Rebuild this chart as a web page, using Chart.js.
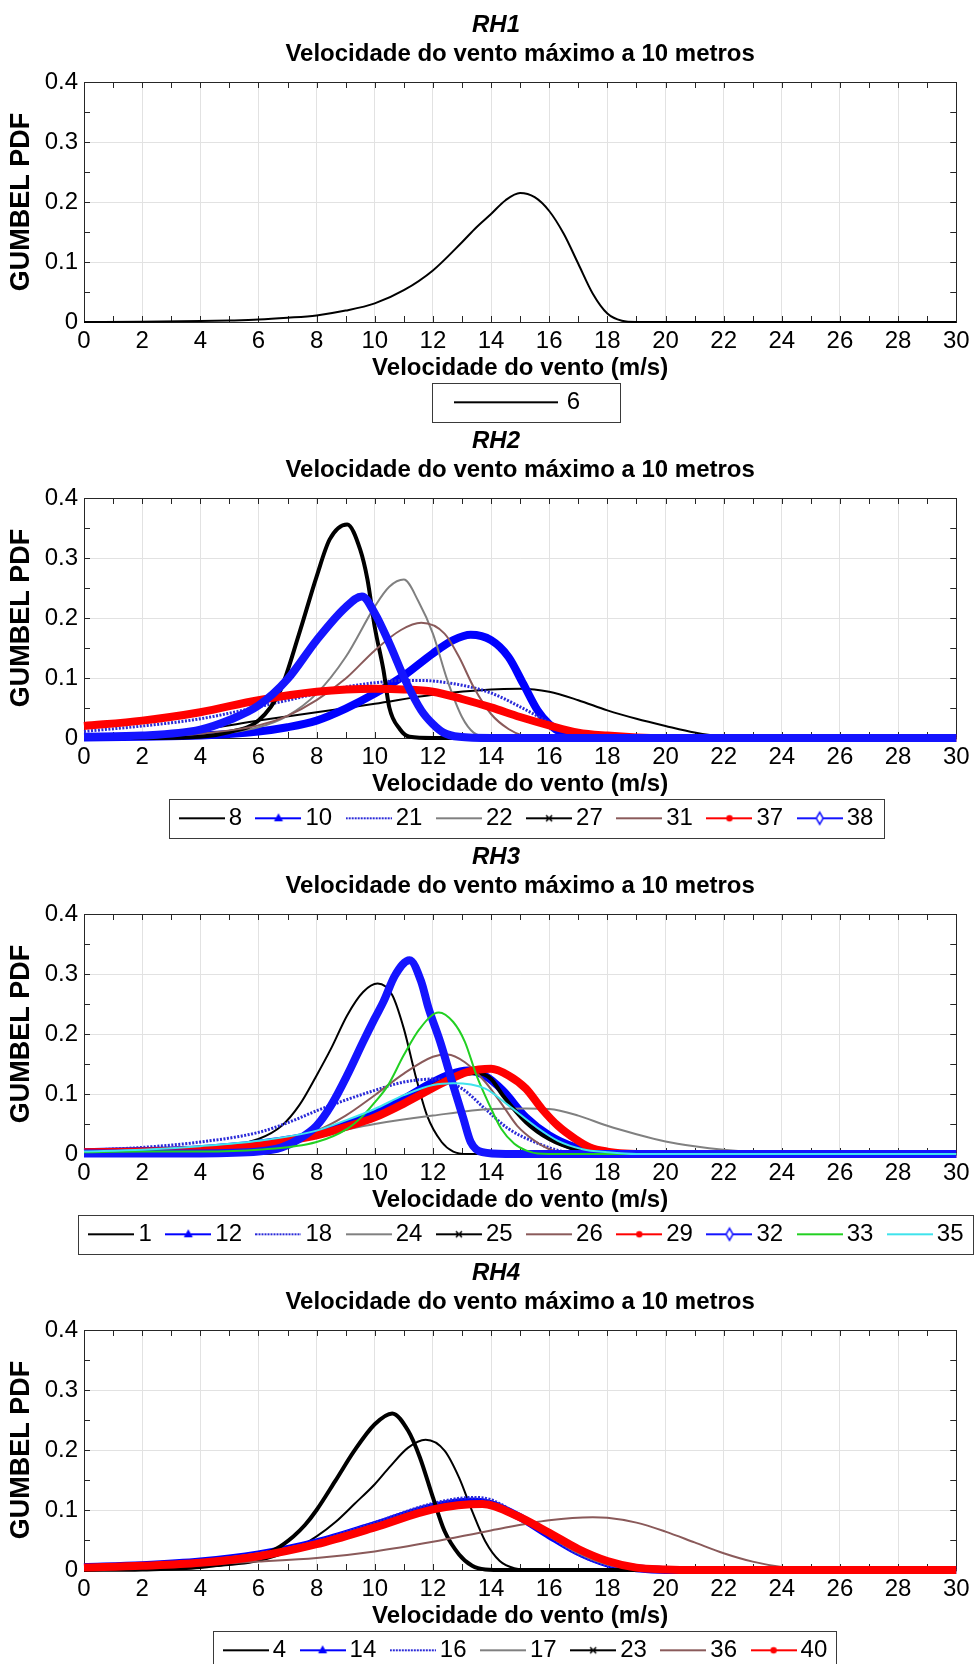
<!DOCTYPE html>
<html>
<head>
  <meta charset="utf-8">
  <title>GUMBEL PDF - RH1 a RH4</title>
  <script src="https://cdn.jsdelivr.net/npm/chart.js"></script>
  <style>
    html, body { margin: 0; padding: 0; background: #fff; overflow: hidden; }
    .panel { position: absolute; left: 0; width: 979px; height: 425px; }
  </style>
</head>
<body>
  <div class="panel" style="top:0px"><canvas id="rh1"></canvas></div>
  <div class="panel" style="top:416px"><canvas id="rh2"></canvas></div>
  <div class="panel" style="top:832px"><canvas id="rh3"></canvas></div>
  <div class="panel" style="top:1248px"><canvas id="rh4"></canvas></div>

  <script>
    // [velocidade (m/s), PDF]
    const rh1_6 = [[0,0],[2,0.0005],[4,0.0015],[5,0.0025],[6,0.004],[7,0.007],[8,0.011],[9,0.019],[10,0.031],[11,0.053],[12,0.086],[13,0.133],[13.5,0.158],[14,0.18],[14.5,0.203],[15,0.215],[15.5,0.208],[16,0.185],[16.5,0.147],[17,0.097],[17.5,0.047],[18,0.014],[18.5,0.002],[19,0],[30,0]];

    const rh2_8  = [[0,0.002],[2,0.005],[4,0.014],[6,0.029],[8,0.043],[10,0.057],[12,0.072],[14,0.081],[15,0.082],[16,0.077],[17,0.063],[18,0.046],[19,0.032],[20,0.02],[21,0.009],[22,0.002],[23,0],[30,0]];
    const rh2_10 = [[0,0.001],[2,0.002],[4,0.004],[6,0.011],[7,0.018],[8,0.029],[9,0.049],[10,0.074],[11,0.104],[12,0.141],[12.7,0.163],[13.3,0.172],[14,0.163],[14.6,0.135],[15.1,0.091],[15.6,0.046],[16,0.023],[16.5,0.007],[17,0.001],[18,0],[30,0]];
    const rh2_21 = [[0,0.011],[2,0.02],[4,0.032],[6,0.052],[8,0.074],[9,0.085],[10,0.092],[11,0.096],[11.5,0.096],[12,0.095],[13,0.088],[14,0.075],[15,0.052],[16,0.026],[16.5,0.015],[17,0.007],[18,0.001],[19,0],[30,0]];
    const rh2_22 = [[0,0],[2,0.001],[4,0.004],[6,0.018],[7,0.037],[8,0.074],[9,0.135],[10,0.219],[10.5,0.252],[11,0.264],[11.5,0.228],[12,0.174],[12.5,0.096],[13,0.035],[13.4,0.009],[14,0.001],[15,0],[30,0]];
    const rh2_27 = [[0,0],[2,0],[4,0.002],[5,0.01],[6,0.029],[6.75,0.079],[7.4,0.174],[8,0.269],[8.45,0.331],[9.05,0.356],[9.5,0.314],[9.75,0.264],[10,0.185],[10.3,0.113],[10.5,0.051],[10.86,0.015],[11.2,0.002],[12,0],[30,0]];
    const rh2_31 = [[0,0.001],[2,0.003],[4,0.007],[6,0.021],[7,0.037],[8,0.063],[9,0.099],[10,0.146],[10.9,0.18],[11.6,0.192],[12.4,0.174],[12.9,0.135],[13.4,0.085],[14,0.04],[14.6,0.015],[15.1,0.004],[16,0],[30,0]];
    const rh2_37 = [[0,0.02],[2,0.029],[4,0.043],[6,0.063],[8,0.077],[10,0.082],[11,0.081],[12,0.077],[13,0.065],[14,0.051],[15,0.035],[16,0.021],[17,0.009],[18,0.004],[19,0.001],[20,0],[30,0]];
    const rh2_38 = [[0,0.002],[2,0.004],[4,0.014],[5,0.03],[6,0.054],[7,0.098],[8,0.163],[9,0.218],[9.56,0.236],[10,0.208],[10.5,0.158],[11.05,0.096],[11.6,0.046],[12,0.023],[12.36,0.009],[12.9,0.002],[14,0],[30,0]];

    const rh3_1  = [[0,0.002],[2,0.004],[4,0.008],[6,0.025],[6.8,0.047],[7.4,0.081],[8,0.131],[8.5,0.176],[9.05,0.231],[9.6,0.27],[10.1,0.284],[10.6,0.265],[11,0.209],[11.4,0.131],[11.8,0.064],[12.3,0.02],[12.7,0.004],[13.2,0],[30,0]];
    const rh3_12 = [[0,0.003],[2,0.005],[4,0.008],[6,0.017],[8,0.033],[9,0.049],[10,0.067],[11,0.092],[12,0.12],[12.6,0.133],[13.2,0.139],[13.8,0.13],[14.4,0.106],[15.2,0.061],[16,0.031],[16.9,0.011],[17.7,0.003],[18.5,0],[30,0]];
    const rh3_18 = [[0,0.006],[2,0.011],[4,0.02],[6,0.036],[7,0.052],[8,0.072],[9,0.09],[10,0.106],[11,0.12],[12.1,0.125],[13,0.109],[13.8,0.075],[14.6,0.042],[15.5,0.02],[16.3,0.006],[17,0.001],[18,0],[30,0]];
    const rh3_24 = [[0,0.003],[2,0.006],[4,0.011],[6,0.02],[8,0.031],[10,0.05],[12,0.064],[14,0.075],[15.2,0.076],[16,0.075],[17,0.064],[18,0.047],[19,0.033],[20,0.021],[21,0.013],[22,0.007],[23,0.003],[24,0.001],[25,0],[30,0]];
    const rh3_25 = [[0,0.003],[2,0.004],[4,0.007],[6,0.015],[8,0.031],[9,0.045],[10,0.061],[11,0.086],[12,0.114],[12.8,0.13],[13.5,0.135],[14,0.125],[14.4,0.098],[15.2,0.053],[16,0.025],[16.9,0.008],[17.7,0.002],[18.5,0],[30,0]];
    const rh3_26 = [[0,0.002],[2,0.004],[4,0.007],[6,0.017],[8,0.039],[9,0.064],[10,0.098],[11,0.134],[12,0.162],[12.5,0.166],[13.1,0.153],[13.8,0.12],[14.4,0.081],[14.9,0.047],[15.5,0.022],[16,0.008],[16.6,0.002],[17.5,0],[30,0]];
    const rh3_29 = [[0,0.003],[2,0.004],[4,0.007],[6,0.014],[6.8,0.02],[8,0.031],[9,0.045],[10,0.061],[11,0.084],[12.4,0.12],[13.2,0.137],[14,0.142],[14.6,0.131],[15.2,0.109],[15.75,0.075],[16.3,0.047],[16.9,0.025],[17.4,0.011],[18,0.004],[18.6,0.001],[19.5,0],[30,0]];
    const rh3_32 = [[0,0.001],[2,0.001],[4,0.001],[6,0.004],[6.8,0.011],[7.4,0.025],[8,0.047],[8.5,0.081],[9.05,0.131],[9.6,0.187],[10,0.226],[10.3,0.254],[10.7,0.298],[11.2,0.323],[11.6,0.287],[11.85,0.243],[12.25,0.187],[12.7,0.114],[13.05,0.059],[13.3,0.02],[13.7,0.003],[14.5,0],[30,0]];
    const rh3_33 = [[0,0.003],[2,0.004],[4,0.004],[6,0.007],[8,0.02],[9.05,0.042],[9.6,0.064],[10,0.086],[10.45,0.114],[11,0.165],[11.55,0.209],[12.2,0.236],[12.7,0.22],[13.1,0.187],[13.5,0.131],[13.95,0.081],[14.35,0.042],[14.8,0.017],[15.2,0.006],[15.6,0.001],[16.5,0],[30,0]];
    const rh3_35 = [[0,0.004],[2,0.007],[4,0.013],[6,0.022],[8,0.039],[9,0.056],[10,0.075],[11,0.098],[12,0.115],[12.7,0.118],[13.8,0.109],[14.6,0.081],[15.5,0.047],[16.3,0.022],[17.15,0.008],[18,0.003],[19,0],[30,0]];

    const rh4_4  = [[0,0.001],[2,0.002],[4,0.005],[6,0.015],[7.2,0.034],[8,0.056],[8.65,0.08],[9.3,0.11],[10,0.143],[10.5,0.171],[11.15,0.204],[11.75,0.217],[12.4,0.199],[12.9,0.154],[13.35,0.098],[13.8,0.048],[14.3,0.015],[14.8,0.003],[15.5,0],[30,0]];
    const rh4_14 = [[0,0.005],[2,0.008],[4,0.014],[6,0.026],[8,0.046],[10,0.075],[12,0.105],[13.4,0.114],[14,0.11],[15,0.088],[16,0.058],[17,0.03],[18,0.011],[19,0.003],[20,0],[30,0]];
    const rh4_16 = [[0,0.006],[2,0.009],[4,0.015],[6,0.027],[8,0.048],[10,0.079],[12,0.111],[13.4,0.121],[14,0.117],[15,0.09],[16,0.057],[17,0.026],[18,0.008],[19,0.002],[20,0],[30,0]];
    const rh4_17 = [[0,0.005],[2,0.009],[4,0.016],[6,0.028],[8,0.047],[10,0.072],[12,0.098],[13.6,0.107],[14.5,0.1],[15,0.088],[16,0.057],[17,0.028],[18,0.009],[19,0.002],[20,0],[30,0]];
    const rh4_23 = [[0,0],[2,0.001],[4,0.005],[5,0.012],[6,0.023],[6.6,0.035],[7.2,0.056],[7.6,0.075],[8,0.1],[8.65,0.149],[9.3,0.199],[10,0.243],[10.6,0.261],[11.15,0.232],[11.55,0.188],[12,0.121],[12.4,0.065],[12.9,0.026],[13.35,0.007],[13.8,0.001],[14.5,0],[30,0]];
    const rh4_36 = [[0,0.004],[2,0.006],[4,0.009],[6,0.014],[8,0.02],[10,0.031],[12,0.047],[14,0.066],[16,0.083],[17.5,0.088],[18,0.087],[19,0.079],[20,0.064],[21,0.046],[22,0.028],[23,0.014],[24,0.005],[25,0.001],[26,0],[30,0]];
    const rh4_40 = [[0,0.004],[2,0.007],[4,0.012],[6,0.023],[8,0.043],[10,0.071],[12,0.101],[13.7,0.11],[14.9,0.09],[16,0.062],[17,0.035],[18,0.015],[19,0.004],[20,0.001],[21,0],[30,0]];

    // line looks (matlab-like)
    const lineStyles = {
      black:   { color: '#000000', width: 2 },
      gray:    { color: '#808080', width: 2 },
      brown:   { color: '#8a5a5a', width: 2 },
      green:   { color: '#22d022', width: 2 },
      cyan:    { color: '#3fe3ec', width: 2 },
      dotted:  { color: '#2a2ad8', width: 3, dash: [2, 1.5] },
      blueTri: { color: '#0000ff', width: 8, marker: 'tri' },
      blueDia: { color: '#1414ff', width: 8, marker: 'diamond' },
      redDot:  { color: '#ff0000', width: 8, marker: 'dot' },
      blackX:  { color: '#000000', width: 4, marker: 'x' }
    };

    // small legend sample: short line with the marker in the middle
    function legendIcon(st, len) {
      const c = document.createElement('canvas');
      c.width = len; c.height = 16;
      const g = c.getContext('2d');
      g.strokeStyle = st.color;
      g.fillStyle = st.color;
      g.lineWidth = 2;
      if (st.dash) g.setLineDash([2, 1]);
      g.beginPath(); g.moveTo(0, 8); g.lineTo(len, 8); g.stroke();
      g.setLineDash([]);
      const m = len / 2;
      if (st.marker === 'tri') {
        g.beginPath(); g.moveTo(m, 3); g.lineTo(m + 4.5, 11); g.lineTo(m - 4.5, 11); g.closePath(); g.fill();
      } else if (st.marker === 'dot') {
        g.beginPath(); g.arc(m, 8, 3.2, 0, Math.PI * 2); g.fill();
      } else if (st.marker === 'diamond') {
        g.fillStyle = '#fff'; g.lineWidth = 1.5;
        g.beginPath(); g.moveTo(m, 2); g.lineTo(m + 3.5, 8); g.lineTo(m, 14); g.lineTo(m - 3.5, 8); g.closePath(); g.fill(); g.stroke();
      } else if (st.marker === 'x') {
        g.lineWidth = 1.5;
        g.beginPath(); g.moveTo(m - 3, 5); g.lineTo(m + 3, 11); g.moveTo(m + 3, 5); g.lineTo(m - 3, 11); g.stroke();
      }
      return c;
    }

    function makePanel(canvasId, title, series, leg) {
      const icons = [];
      const datasets = series.map(([label, pts, styleKey], i) => {
        const st = lineStyles[styleKey];
        icons.push(legendIcon(st, leg.lineLen));
        return {
          label: label,
          data: pts.map(([x, y]) => ({ x: x, y: y })),
          borderColor: st.color,
          borderWidth: st.width,
          borderDash: st.dash || [],
          borderJoinStyle: 'round',
          pointRadius: 0,
          pointHoverRadius: 0,
          cubicInterpolationMode: 'monotone',
          fill: false,
          order: -i,
          clip: { left: 1, right: 1, top: 5, bottom: 6 }
        };
      });

      const overhang = (leg.lineLen - leg.boxW) / 2;

      const framePlugin = {
        id: 'frame',
        afterLayout(chart) {
          // centre the legend row and the RHn title like the original figure
          const lg = chart.legend;
          const d = leg.center - (lg.left + lg.right) / 2 - (leg.mR - leg.mL - overhang) / 2;
          lg.left += d; lg.right += d;
          const tb = chart.titleBlock;
          const dt = 496 - (tb.left + tb.right) / 2;
          tb.left += dt; tb.right += dt;
        },
        beforeDatasetsDraw(chart) {
          const { ctx, chartArea: a, scales } = chart;
          ctx.save();
          ctx.strokeStyle = '#262626';
          ctx.lineWidth = 1;
          ctx.beginPath();
          for (let v = 0; v <= 30; v++) {
            const px = Math.round(scales.x.getPixelForValue(v)) + 0.5;
            ctx.moveTo(px, a.bottom); ctx.lineTo(px, a.bottom - 6);
            ctx.moveTo(px, a.top); ctx.lineTo(px, a.top + 6);
          }
          for (let k = 0; k <= 8; k++) {
            const py = Math.round(scales.y.getPixelForValue(k * 0.05)) + 0.5;
            ctx.moveTo(a.left, py); ctx.lineTo(a.left + 6, py);
            ctx.moveTo(a.right, py); ctx.lineTo(a.right - 6, py);
          }
          ctx.stroke();
          ctx.strokeRect(Math.round(a.left) + 0.5, Math.round(a.top) + 0.5, Math.round(a.right - a.left), Math.round(a.bottom - a.top));
          ctx.restore();
        },
        afterDraw(chart) {
          const hb = chart.legend.legendHitBoxes;
          if (!hb || !hb.length) return;
          const first = hb[0], last = hb[hb.length - 1];
          const left = first.left - overhang - leg.mL;
          const right = last.left + last.width + leg.mR;
          const cy = first.top + first.height / 2;
          const ctx = chart.ctx;
          ctx.save();
          ctx.strokeStyle = '#3a3a3a';
          ctx.lineWidth = 1;
          ctx.strokeRect(Math.round(left) + 0.5, Math.round(cy - 19.5) + 0.5, Math.round(right - left), 39);
          ctx.restore();
        }
      };

      return new Chart(document.getElementById(canvasId), {
        type: 'line',
        data: { datasets: datasets },
        options: {
          responsive: true,
          maintainAspectRatio: false,
          animation: false,
          events: [],
          layout: { padding: { top: 0, right: 15, bottom: 0.7, left: 0 } },
          scales: {
            x: {
              type: 'linear',
              min: 0,
              max: 30,
              ticks: { stepSize: 2, autoSkip: false, maxRotation: 0, padding: 9.4, color: '#000', font: { size: 24, lineHeight: 0.8 } },
              grid: { color: '#e2e2e2', drawTicks: false },
              border: { display: false },
              title: { display: true, text: 'Velocidade do vento (m/s)', color: '#000', font: { size: 24, weight: 'bold', lineHeight: 0.8 }, padding: { top: -1.3, bottom: -9.1 } }
            },
            y: {
              min: 0,
              max: 0.4,
              ticks: { stepSize: 0.1, padding: 6, color: '#000', font: { size: 24, lineHeight: 0.8 }, callback: v => v === 0 ? '0' : v.toFixed(1) },
              grid: { color: '#e2e2e2', drawTicks: false },
              border: { display: false },
              title: { display: true, text: 'GUMBEL PDF', color: '#000', font: { size: 27, weight: 'bold', lineHeight: 0.8 }, padding: { top: 11.2, bottom: 0 } },
              afterFit: s => { s.width = 84; }
            }
          },
          plugins: {
            title: {
              display: true,
              text: title,
              color: '#000',
              font: { size: 24, weight: 'bold', style: 'italic', lineHeight: 1.2 },
              padding: { top: 11, bottom: 0 }
            },
            subtitle: {
              display: true,
              fullSize: false,
              text: 'Velocidade do vento máximo a 10 metros',
              color: '#000',
              font: { size: 24, weight: 'bold', lineHeight: 1.2 },
              padding: { top: 0.5, bottom: 12.9 }
            },
            legend: {
              position: 'bottom',
              labels: {
                usePointStyle: true,
                pointStyleWidth: leg.boxW,
                padding: 21.5,
                color: '#000',
                font: { size: 24 },
                generateLabels: chart => chart.data.datasets.map((ds, i) => ({
                  text: ds.label,
                  pointStyle: icons[i],
                  fillStyle: 'transparent',
                  strokeStyle: 'transparent',
                  lineWidth: 0,
                  fontColor: '#000',
                  hidden: false,
                  datasetIndex: i
                }))
              }
            },
            tooltip: { enabled: false }
          }
        },
        plugins: [framePlugin]
      });
    }

    Chart.defaults.font.family = '"Liberation Sans", Arial, Helvetica, sans-serif';
    Chart.defaults.color = '#000';

    const wideLegend = { lineLen: 46, boxW: 30, mL: 10, mR: 10, center: 526 };

    makePanel('rh1', 'RH1', [
      ['6', rh1_6, 'black']
    ], { lineLen: 104, boxW: 98, mL: 22, mR: 40, center: 526 });

    makePanel('rh2', 'RH2', [
      ['8', rh2_8, 'black'],
      ['10', rh2_10, 'blueTri'],
      ['21', rh2_21, 'dotted'],
      ['22', rh2_22, 'gray'],
      ['27', rh2_27, 'blackX'],
      ['31', rh2_31, 'brown'],
      ['37', rh2_37, 'redDot'],
      ['38', rh2_38, 'blueDia']
    ], wideLegend);

    makePanel('rh3', 'RH3', [
      ['1', rh3_1, 'black'],
      ['12', rh3_12, 'blueTri'],
      ['18', rh3_18, 'dotted'],
      ['24', rh3_24, 'gray'],
      ['25', rh3_25, 'blackX'],
      ['26', rh3_26, 'brown'],
      ['29', rh3_29, 'redDot'],
      ['32', rh3_32, 'blueDia'],
      ['33', rh3_33, 'green'],
      ['35', rh3_35, 'cyan']
    ], wideLegend);

    makePanel('rh4', 'RH4', [
      ['4', rh4_4, 'black'],
      ['14', rh4_14, 'blueTri'],
      ['16', rh4_16, 'dotted'],
      ['17', rh4_17, 'gray'],
      ['23', rh4_23, 'blackX'],
      ['36', rh4_36, 'brown'],
      ['40', rh4_40, 'redDot']
    ], { lineLen: 46, boxW: 30, mL: 10, mR: 8, center: 524 });
  </script>
</body>
</html>
